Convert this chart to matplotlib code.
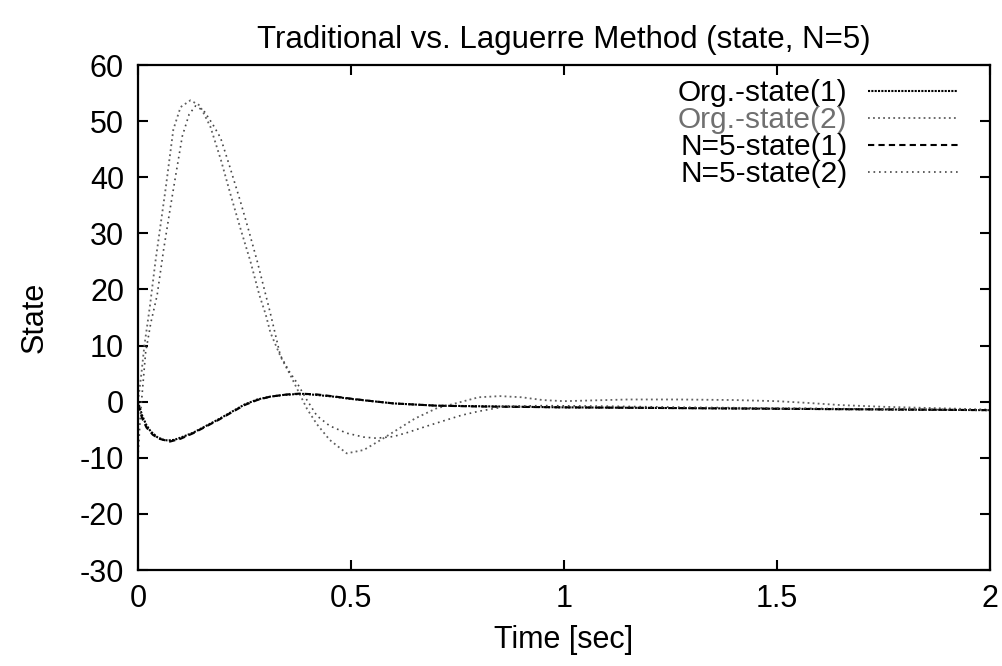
import numpy as np
import matplotlib
matplotlib.use("Agg")
import matplotlib.pyplot as plt

plt.rcParams['font.family'] = ['Liberation Sans', 'DejaVu Sans']
plt.rcParams['axes.unicode_minus'] = False

# ---------------------------- data ----------------------------
t_org1 = [0, 0.01, 0.02, 0.03, 0.045, 0.06, 0.07, 0.085, 0.1, 0.13, 0.16, 0.19,
          0.22, 0.25, 0.28, 0.31, 0.34, 0.37, 0.39, 0.42, 0.46, 0.5, 0.55, 0.6,
          0.65, 0.7, 0.8, 0.9, 1.0, 1.2, 1.4, 1.6, 1.8, 2.0]
v_org1 = [0, -2.5, -4.2, -5.3, -6.3, -6.8, -6.9, -6.8, -6.4, -5.5, -4.3, -3.1,
          -1.8, -0.5, 0.4, 0.9, 1.2, 1.35, 1.4, 1.2, 0.9, 0.5, 0.1, -0.3,
          -0.5, -0.7, -0.8, -0.9, -1.0, -1.1, -1.2, -1.3, -1.4, -1.5]

t_n5_1 = [0, 0.01, 0.02, 0.035, 0.05, 0.075, 0.1, 0.13, 0.16, 0.19, 0.22, 0.25,
          0.28, 0.31, 0.35, 0.38, 0.42, 0.46, 0.5, 0.55, 0.6, 0.7, 0.8, 1.0,
          1.2, 1.4, 1.6, 1.8, 2.0]
v_n5_1 = [-0.5, -3.0, -4.6, -5.9, -6.6, -7.1, -6.6, -5.6, -4.4, -3.2, -1.9, -0.6,
          0.3, 0.9, 1.3, 1.45, 1.3, 0.95, 0.55, 0.1, -0.3, -0.7, -0.85, -1.0,
          -1.1, -1.2, -1.3, -1.4, -1.5]

t_org2 = [0, 0.008, 0.015, 0.028, 0.041, 0.065, 0.083, 0.1, 0.123, 0.145, 0.17,
          0.195, 0.217, 0.24, 0.264, 0.285, 0.3, 0.311, 0.335, 0.358, 0.38, 0.397,
          0.42, 0.45, 0.49, 0.53, 0.57, 0.608, 0.65, 0.7, 0.75, 0.8, 0.85, 0.9,
          0.95, 1.0, 1.05, 1.15, 1.27, 1.4, 1.5, 1.57, 1.65, 1.75, 1.85, 2.0]
v_org2 = [0, 5, 10, 17, 25, 38, 48.5, 52.5, 53.7, 52.8, 49, 43, 37, 31, 25, 19,
          15.5, 12.3, 8, 4.7, 1.3, -1.3, -4, -6.8, -9.2, -8.6, -6.8, -5.0, -3.0,
          -1.2, -0.2, 0.8, 1.0, 0.8, 0.3, 0.1, 0.2, 0.4, 0.4, 0.3, 0.1, -0.2,
          -0.6, -0.9, -1.1, -1.4]

t_n5_2 = [0, 0.006, 0.018, 0.03, 0.045, 0.06, 0.076, 0.09, 0.104, 0.12, 0.135,
          0.155, 0.175, 0.194, 0.215, 0.24, 0.26, 0.28, 0.31, 0.334, 0.355, 0.373,
          0.395, 0.42, 0.45, 0.49, 0.53, 0.56, 0.6, 0.632, 0.68, 0.726, 0.76,
          0.8, 0.867, 0.95, 1.1, 1.3, 1.6, 2.0]
v_n5_2 = [-10, -2, 8.8, 14, 19, 27, 34.6, 41, 47.3, 51.2, 52.7, 51.8, 49.5, 47,
          42, 35.8, 30.5, 25, 16, 8.3, 5.4, 3.4, 0.5, -2.5, -4.3, -5.6, -6.3,
          -6.5, -6.2, -5.5, -4.3, -3.2, -2.4, -1.7, -0.8, -0.7, -0.8, -1.0,
          -1.2, -1.5]

labels = ["Org.-state(1)", "Org.-state(2)", "N=5-state(1)", "N=5-state(2)"]
x_ticks = [0, 0.5, 1, 1.5, 2]
x_ticklabels = ["0", "0.5", "1", "1.5", "2"]
y_ticks = list(range(-30, 61, 10))

# ---------------------------- figure ----------------------------
fig = plt.figure(figsize=(10.02, 6.66), dpi=100)
ax = fig.add_axes([0.1377, 0.144, 0.8503, 0.7584])

ax.plot(t_org1, v_org1, color="black", lw=1.5, ls=(0, (1, 0.6)), label=labels[0])
ax.plot(t_org2, v_org2, color="#606060", lw=1.3, ls=(0, (1, 1.8)), label=labels[1])
ax.plot(t_n5_1, v_n5_1, color="black", lw=1.5, ls=(0, (3, 2)), label=labels[2])
ax.plot(t_n5_2, v_n5_2, color="#454545", lw=1.2, ls=(0, (1, 2.3)), label=labels[3])

ax.set_xlim(0, 2)
ax.set_ylim(-30, 60)
ax.set_xticks(x_ticks)
ax.set_xticklabels(x_ticklabels)
ax.set_yticks(y_ticks)
ax.tick_params(direction="in", length=7, width=1.5, top=True, right=True,
               labelsize=22)
ax.tick_params(axis="x", pad=10)
ax.tick_params(axis="y", pad=10)
for sp in ax.spines.values():
    sp.set_linewidth(1.6)

ax.set_title("Traditional vs. Laguerre Method (state, N=5)", fontsize=22.5, pad=12)
ax.set_xlabel("Time [sec]", fontsize=22, labelpad=8)
ax.set_ylabel("State", fontsize=22, labelpad=22)

leg = ax.legend(loc="upper right", bbox_to_anchor=(0.9765, 0.996), frameon=False,
                markerfirst=False, fontsize=21.5, handlelength=3.0,
                labelspacing=-0.03, borderaxespad=0.0, handletextpad=0.7)
for txt in leg.get_texts():
    txt.set_ha("right")
leg.get_texts()[1].set_color("#707070")

fig.savefig("out.png", dpi=100)
